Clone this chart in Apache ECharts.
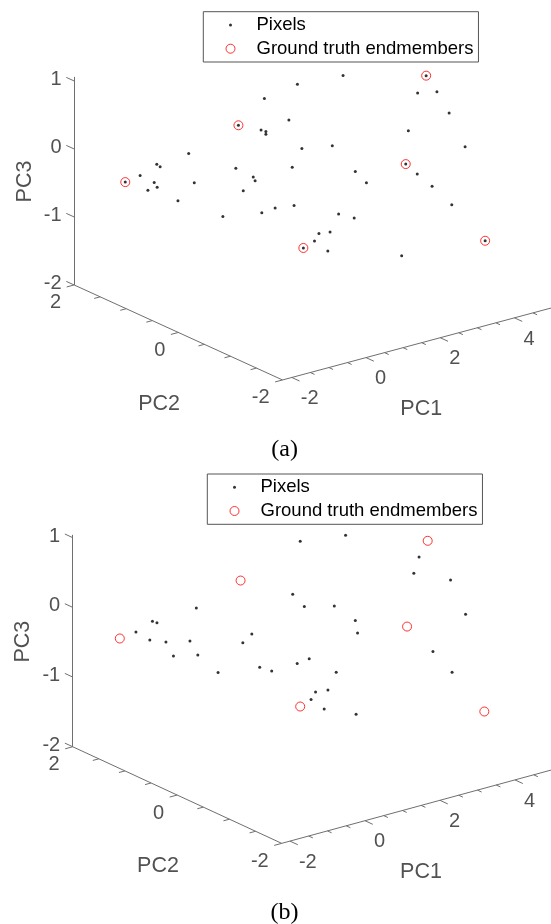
<!DOCTYPE html>
<html>
<head>
<meta charset="utf-8">
<script src="https://cdn.jsdelivr.net/npm/echarts@6/dist/echarts.min.js"></script>
<style>
html,body{margin:0;padding:0;background:#fff;}
#chart{width:551px;height:924px;}
</style>
</head>
<body>
<div id="chart"></div>
<script>
// ---------------- DATA ----------------
// Each point is [PC1, PC3], expressed on the PC2 = 0 plane of the 3-D view
// (the depth of a projected point cannot be read from the picture).

// Panel (a): pixels (the six endmember locations also carry a pixel dot)
const pixelsA = [
  [0.96,1.18],[0.07,1.10],[0.73,0.69],[-0.02,0.65],[0.11,0.61],[0.11,0.57],
  [-1.97,0.59],[-2.83,0.56],[-2.74,0.51],[-3.28,0.46],[-2.90,0.30],[-2.82,0.22],
  [-3.07,0.21],[-1.82,0.14],[-2.26,-0.06],[-0.70,0.19],[0.82,-0.02],[-0.23,-0.01],
  [-0.18,-0.07],[-0.50,-0.17],[0.36,-0.55],[0.87,-0.59],[0.00,-0.57],[-1.05,-0.47],
  [2.19,1.13],[4.20,0.58],[4.72,0.52],[5.05,0.16],[3.95,0.06],[1.08,0.22],
  [1.90,0.14],[5.48,-0.40],[4.19,-0.61],[2.52,-0.33],[2.82,-0.54],[4.59,-0.85],
  [2.07,-0.89],[2.49,-1.01],[5.12,-1.20],[1.54,-1.10],[1.84,-1.12],[1.42,-1.19],
  [1.78,-1.39],[3.77,-1.75],
  [-3.68,0.42],[-0.63,0.81],[4.43,0.80],[3.88,-0.42],[1.12,-1.25],[6.02,-1.86]
];
const endmembersA = [
  [-3.68,0.42],[-0.63,0.81],[4.43,0.80],[3.88,-0.42],[1.12,-1.25],[6.02,-1.86]
];

// Panel (b)
const pixelsB = [
  [-3.32,0.50],[-2.88,0.59],[-2.76,0.55],[-2.95,0.33],[-2.52,0.24],[-2.32,0.01],
  [-1.88,0.16],[-1.71,0.61],[-1.67,-0.07],[-1.13,-0.40],[-0.47,-0.07],[-0.23,0.02],
  [-0.02,-0.49],[0.30,-0.59],[1.06,1.16],[2.27,1.07],[4.23,0.47],[4.09,0.26],
  [5.07,0.02],[0.86,0.43],[1.17,0.21],[1.97,0.10],[2.53,-0.19],[2.59,-0.38],
  [5.47,-0.53],[4.60,-0.94],[0.98,-0.58],[1.30,-0.56],[2.02,-0.86],[5.11,-1.31],
  [1.47,-1.06],[1.80,-1.08],[1.35,-1.15],[1.70,-1.34],[2.55,-1.54]
];
const endmembersB = [
  [-3.75,0.47],[-0.53,0.83],[4.46,0.67],[3.91,-0.48],[1.06,-1.21],[5.97,-2.00]
];

// Tick labels
const pc1Ticks = [-2, 0, 2, 4];
const pc2Ticks = [-2, 0, 2];
const pc3Ticks = [-2, -1, 0, 1];
const tickStep = 0.5;

const seriesNames = ['Pixels', 'Ground truth endmembers'];
const captions = ['(a)', '(b)'];
const axisTitles = ['PC1', 'PC2', 'PC3'];

// ---------------- VIEW (layout of the 3-D box projection) ----------------
const W = 551, PH = 462;
const views = [
  { o:[261.8,174.1], e1:[37.1,-9.94], e2:[-52.1,-23.75], e3:[0,-68.0],
    pc1:[-2.25,5.6], pc2:[-2,2], pc3:[-2,1.06], titleDy:[-1,72.3], legend:[203.3,11.7] },
  { o:[260.45,171.0], e1:[37.5,-10.2], e2:[-52.25,-24.15], e3:[0,-69.7],
    pc1:[-2.22,5.6], pc2:[-2,2], pc3:[-2,1.04], titleDy:[0,72.0], legend:[207.3,474] }
];

function proj(v, p1, p2, p3) {
  return [v.o[0] + p1*v.e1[0] + p2*v.e2[0] + p3*v.e3[0],
          v.o[1] + p1*v.e1[1] + p2*v.e2[1] + p3*v.e3[1]];
}
function seg(v, a, b) { return { coords: [proj(v, a[0],a[1],a[2]), proj(v, b[0],b[1],b[2])] }; }

const FONT = '"Liberation Sans", Arial, Helvetica, sans-serif';
const AXIS_COLOR = '#6f6f6f';
const TEXT_COLOR = '#262626';

const grids = [], xAxes = [], yAxes = [], series = [], legends = [], graphics = [];

function labelSeries(idx, data, label) {
  return {
    type: 'scatter', xAxisIndex: idx, yAxisIndex: idx, symbolSize: 1, silent: true,
    itemStyle: { color: 'rgba(0,0,0,0)' }, data: data,
    label: Object.assign({ show: true, formatter: '{b}', color: TEXT_COLOR,
      fontFamily: FONT, fontSize: 20 }, label),
    z: 3
  };
}

function buildPanel(idx, v, pixels, ends) {
  grids.push({ left: 0, top: idx*PH, width: W, height: PH, containLabel: false });
  xAxes.push({ type:'value', gridIndex: idx, min: 0, max: W, show: false });
  yAxes.push({ type:'value', gridIndex: idx, min: 0, max: PH, inverse: true, show: false });

  const [x0, x1] = v.pc1, [y0, y1] = v.pc2, [z0, z1] = v.pc3;

  // axis lines
  const axisSegs = [
    seg(v, [x0,y1,z0], [x0,y1,z1]),   // PC3 (vertical)
    seg(v, [x0,y1,z0], [x0,y0,z0]),   // PC2
    seg(v, [x0,y0,z0], [x1,y0,z0])    // PC1
  ];
  // ticks (pointing out of the box)
  const tickSegs = [];
  pc3Ticks.forEach(t => tickSegs.push(seg(v, [x0,y1,t], [x0,y1+0.15,t])));
  for (let t = y0; t <= y1 + 1e-9; t += tickStep) {
    const L = pc2Ticks.indexOf(t) >= 0 ? 0.2 : 0.16;
    tickSegs.push(seg(v, [x0,t,z0], [x0-L,t,z0]));
  }
  for (let t = -2; t <= x1; t += tickStep) {
    const L = pc1Ticks.indexOf(t) >= 0 ? 0.15 : 0.08;
    tickSegs.push(seg(v, [t,y0,z0], [t,y0-L,z0]));
  }
  series.push({
    type: 'lines', coordinateSystem: 'cartesian2d', xAxisIndex: idx, yAxisIndex: idx,
    polyline: false, silent: true, data: axisSegs.concat(tickSegs),
    lineStyle: { color: AXIS_COLOR, width: 1, opacity: 1 }, z: 1
  });

  // tick labels
  series.push(labelSeries(idx,
    pc3Ticks.map(t => ({ name: String(t), value: proj(v, x0, y1, t) })),
    { position: [-12, -1], align: 'right', verticalAlign: 'middle' }));
  series.push(labelSeries(idx,
    pc2Ticks.map(t => ({ name: String(t), value: proj(v, x0, t, z0) })),
    { position: [-12.5, 18.5], align: 'right', verticalAlign: 'middle' }));
  series.push(labelSeries(idx,
    pc1Ticks.map(t => ({ name: String(t), value: proj(v, t, y0, z0) })),
    { position: [9.5, 21.7], align: 'left', verticalAlign: 'middle' }));

  // axis titles
  series.push(labelSeries(idx,
    [{ name: axisTitles[0], value: proj(v, 2, y0, z0) }],
    { position: [-18.5, v.titleDy[1]], align: 'center', verticalAlign: 'middle', fontSize: 21.5 }));
  series.push(labelSeries(idx,
    [{ name: axisTitles[1], value: proj(v, x0, 0, z0) }],
    { position: [-18.7, v.titleDy[1] - 0.5], align: 'center', verticalAlign: 'middle', fontSize: 21.5 }));
  series.push(labelSeries(idx,
    [{ name: axisTitles[2], value: proj(v, x0, y1, -0.5) }],
    { position: [-49, v.titleDy[0]], align: 'center', verticalAlign: 'middle', fontSize: 21.5, rotate: 90 }));

  // data
  series.push({
    name: seriesNames[0], type: 'scatter', xAxisIndex: idx, yAxisIndex: idx,
    symbol: 'circle', symbolSize: 3, itemStyle: { color: '#000' },
    data: pixels.map(p => proj(v, p[0], 0, p[1])), z: 4
  });
  series.push({
    name: seriesNames[1], type: 'scatter', xAxisIndex: idx, yAxisIndex: idx,
    symbol: 'circle', symbolSize: 9,
    itemStyle: { color: 'rgba(0,0,0,0)', borderColor: '#ff0000', borderWidth: 1 },
    data: ends.map(p => proj(v, p[0], 0, p[1])), z: 5
  });

  legends.push({
    orient: 'vertical', left: v.legend[0], top: v.legend[1],
    padding: [3.3, 5, 3.3, 21.7], itemWidth: 26, itemHeight: 10, itemGap: 3.7,
    borderColor: '#555', borderWidth: 1, backgroundColor: '#fff', selectedMode: false,
    textStyle: { fontFamily: FONT, fontSize: 18.5, color: '#000', lineHeight: 20 },
    data: [
      { name: seriesNames[0],
        icon: 'path://M0,0 M26,10 M3.5,5 A1.5,1.5 0 1,1 6.5,5 A1.5,1.5 0 1,1 3.5,5 Z',
        itemStyle: { color: '#000', borderWidth: 0 } },
      { name: seriesNames[1],
        icon: 'path://M0,0 M26,10 M0.5,5 A4.5,4.5 0 1,1 9.5,5 A4.5,4.5 0 1,1 0.5,5 Z',
        itemStyle: { color: 'rgba(0,0,0,0)', borderColor: '#ff0000', borderWidth: 1 } }
    ]
  });

  graphics.push({
    type: 'text', x: 284.6, y: idx === 0 ? 450 : 913,
    style: { text: captions[idx], font: '24px "Liberation Serif", "Times New Roman", serif',
             fill: '#000', align: 'center', verticalAlign: 'middle' }
  });
}

buildPanel(0, views[0], pixelsA, endmembersA);
buildPanel(1, views[1], pixelsB, endmembersB);

const chart = echarts.init(document.getElementById('chart'), null, { renderer: 'canvas' });
chart.setOption({
  backgroundColor: '#fff',
  animation: false,
  grid: grids, xAxis: xAxes, yAxis: yAxes,
  legend: legends,
  series: series,
  graphic: graphics
});
</script>
</body>
</html>
